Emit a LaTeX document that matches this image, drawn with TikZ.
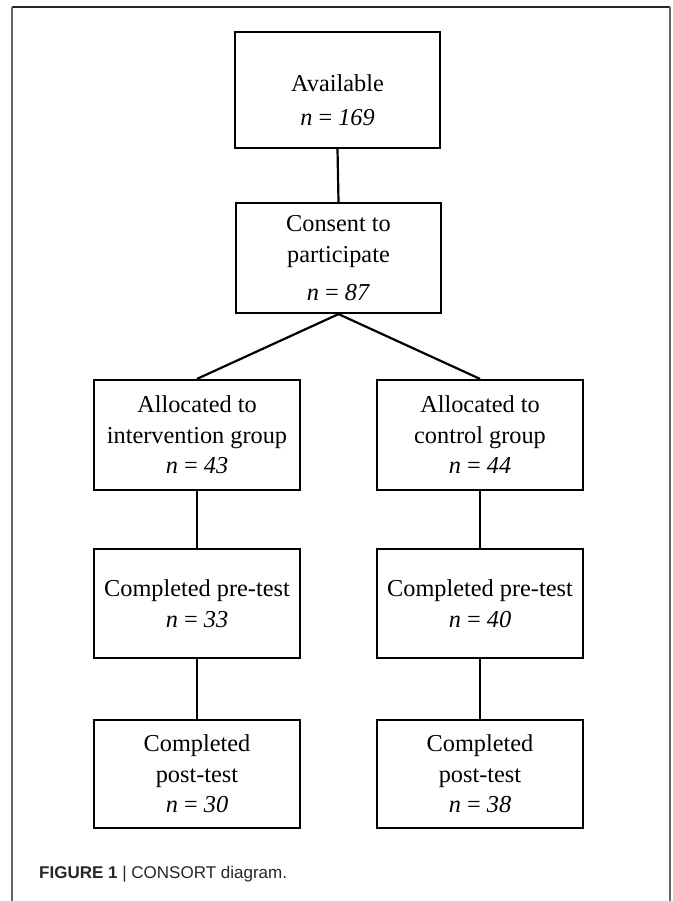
\documentclass[tikz,border=0pt]{standalone}
\usepackage{fontspec}
\setmainfont{Liberation Serif}
\newfontfamily\capfont{Liberation Sans}
\begin{document}
\begin{tikzpicture}[x=1pt,y=1pt,
  box/.style={draw=black, line width=2.2pt, rectangle, inner sep=0pt,
    minimum width=206, align=center, font=\fontsize{24.3}{30.5}\selectfont},
  conn/.style={draw=black, line width=2.2pt},
  frameside/.style={draw=black!60, line width=1.8pt},
  frametop/.style={draw=black!85, line width=1.6pt}
]
\useasboundingbox (0,0) rectangle (672,-901);
\fill[white] (0,0) rectangle (672,-901);
% outer frame
\coordinate (fTL) at (12,-7);
\coordinate (fTR) at (670,-7);
\coordinate (fBL) at (12,-901);
\coordinate (fBR) at (670,-901);
\draw[frametop] (fTL) -- (fTR);
\draw[frameside] (fTL) -- (fBL);
\draw[frameside] (fTR) -- (fBR);

\node[box, minimum width=205, minimum height=116] (avail) at (337.5,-90)
  {\rule{0pt}{37pt}Available\\[4pt]\textit{n} = \textit{169}};
\node[box, minimum width=205, minimum height=110] (consent) at (338.5,-258)
  {Consent to\\participate\\[7.5pt]\textit{n} = \textit{87}};
\node[box, minimum height=110] (allocL) at (197,-435)
  {Allocated to\\intervention group\\\textit{n} = \textit{43}};
\node[box, minimum height=110] (allocR) at (480,-435)
  {Allocated to\\control group\\\textit{n} = \textit{44}};
\node[box, minimum height=109] (preL) at (197,-603.5)
  {Completed pre-test\\\textit{n} = \textit{33}};
\node[box, minimum height=109] (preR) at (480,-603.5)
  {Completed pre-test\\\textit{n} = \textit{40}};
\node[box, minimum height=108] (postL) at (197,-774)
  {Completed\\post-test\\\textit{n} = \textit{30}};
\node[box, minimum height=108] (postR) at (480,-774)
  {Completed\\post-test\\\textit{n} = \textit{38}};

\draw[conn] (avail.south) -- (consent.north);
\draw[conn] (consent.south) -- (allocL.north);
\draw[conn] (consent.south) -- (allocR.north);
\draw[conn] (allocL.south) -- (preL.north);
\draw[conn] (allocR.south) -- (preR.north);
\draw[conn] (preL.south) -- (postL.north);
\draw[conn] (preR.south) -- (postR.north);

\node[anchor=base west, inner sep=0pt, text=black!85,
  font=\capfont\fontsize{17}{20}\selectfont] (caption) at (39,-878)
  {\textbf{FIGURE 1} | CONSORT diagram.};
\end{tikzpicture}
\end{document}
